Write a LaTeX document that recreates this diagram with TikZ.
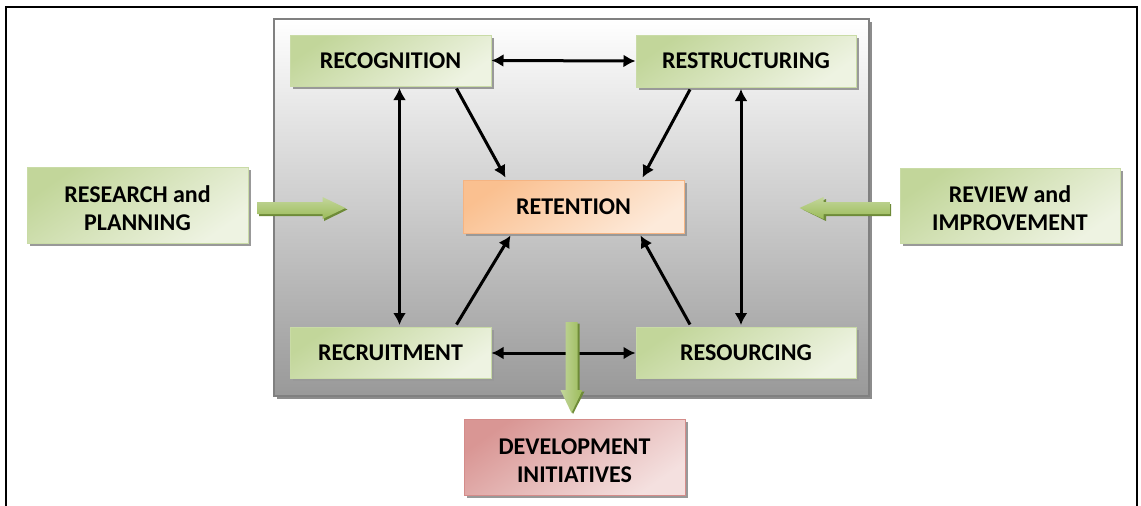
\documentclass[tikz,border=0pt]{standalone}
\usepackage{fontspec}
\setmainfont{Carlito}
\usetikzlibrary{arrows.meta,shadows,calc}
\definecolor{gDark}{HTML}{C2D69A}
\definecolor{gLight}{HTML}{EEF3E2}
\definecolor{gBorder}{HTML}{C9DBA6}
\definecolor{oDark}{HTML}{FAC090}
\definecolor{oLight}{HTML}{FDEADA}
\definecolor{oBorder}{HTML}{F5B482}
\definecolor{rDark}{HTML}{D99694}
\definecolor{rLight}{HTML}{F4E0DF}
\definecolor{rBorder}{HTML}{D48C8A}
\definecolor{arrG}{HTML}{9BBB59}
\definecolor{arrGl}{HTML}{C3D69B}
\definecolor{arrGd}{HTML}{6E8B38}
\tikzset{
  basebox/.style={draw, line width=1pt, inner sep=0pt, align=center,
    font=\fontsize{24}{28}\selectfont\bfseries,
    drop shadow={shadow xshift=3pt,shadow yshift=-3pt,fill=black!40,opacity=1}},
  greenbox/.style={basebox, draw=gBorder, top color=gDark, bottom color=gLight, shading angle=35},
  orangebox/.style={basebox, draw=oBorder, top color=oDark, bottom color=oLight, shading angle=35},
  redbox/.style={basebox, draw=rBorder, top color=rDark, bottom color=rLight, shading angle=35},
  link/.style={line width=3pt, -{Latex[length=12pt,width=13pt]}},
  dlink/.style={line width=3pt, {Latex[length=12pt,width=13pt]}-{Latex[length=12pt,width=13pt]}},
}
\begin{document}
\begin{tikzpicture}[x=1pt,y=-1pt]
\useasboundingbox (0,0) rectangle (1141,506);
% outer frame
\draw[line width=2.2pt] (6,512) -- (6,7) -- (1137,7) -- (1137,512);
% panel
\node[draw=black!50, line width=1.2pt, minimum width=595pt, minimum height=377pt, inner sep=0pt,
      top color=white, bottom color=black!40,
      drop shadow={shadow xshift=3pt,shadow yshift=-3pt,fill=black!45,opacity=1}]
      (panel) at (571.5,207.5) {};
% boxes
\node[greenbox, minimum width=201pt, minimum height=51pt] (recog) at (390.5,60.5) {RECOGNITION};
\node[greenbox, minimum width=220pt, minimum height=52pt] (restr) at (746,61) {RESTRUCTURING};
\node[greenbox, minimum width=201pt, minimum height=51pt] (recruit) at (390.5,352.5) {RECRUITMENT};
\node[greenbox, minimum width=220pt, minimum height=51pt] (resour) at (746,352.5) {RESOURCING};
\node[orangebox, minimum width=221pt, minimum height=53pt] (ret) at (573.5,206.5) {RETENTION};
\node[greenbox, minimum width=221pt, minimum height=76pt] (research) at (137.5,205) {\rule{0pt}{23pt}RESEARCH and\\PLANNING};
\node[greenbox, minimum width=220pt, minimum height=75pt] (review) at (1010,205.5) {\rule{0pt}{23pt}REVIEW and\\IMPROVEMENT};
\node[redbox, minimum width=221pt, minimum height=76pt] (devel) at (574.5,457) {\rule{0pt}{23pt}DEVELOPMENT\\INITIATIVES};
% black connectors
\draw[dlink] (recog.east) -- (restr.west);
\draw[dlink] ([yshift=-0.5pt]recruit.east) -- ([yshift=-0.5pt]resour.west);
\draw[dlink] ([xshift=9pt,yshift=-1.5pt]recog.south) -- ([xshift=9pt,yshift=1.5pt]recruit.north);
\draw[dlink] ([xshift=-5pt,yshift=-1.5pt]restr.south) -- ([xshift=-5pt,yshift=1.5pt]resour.north);
\draw[link] ([xshift=66pt,yshift=-2pt]recog.south) -- ([xshift=-68pt,yshift=2pt]ret.north);
\draw[link] ([xshift=-56pt,yshift=-2pt]restr.south) -- ([xshift=69pt,yshift=2pt]ret.north);
\draw[link] ([xshift=66pt,yshift=2pt]recruit.north) -- ([xshift=-63pt,yshift=-2pt]ret.south);
\draw[link] ([xshift=-56pt,yshift=2pt]resour.north) -- ([xshift=67pt,yshift=-2pt]ret.south);
% green block arrows
\coordinate (a1s) at ($(research.east)+(9,3)$);
\coordinate (a2s) at ($(review.west)+(-10,2.5)$);
\coordinate (a3s) at (571.5,322);
% right arrow
\fill[arrGd] ($(a1s)+(1.5,-4)$) -- ++(65,0) -- ++(0,-5) -- ($(a1s)+(90,1.5)$) -- ($(a1s)+(66.5,13)$) -- ++(0,-5) -- ($(a1s)+(1.5,8)$) -- cycle;
\shade[top color=arrGl, bottom color=arrG] ($(a1s)+(0,-6)$) -- ++(65,0) -- ++(0,-5) -- ($(a1s)+(88,0)$) -- ($(a1s)+(65,11)$) -- ++(0,-5) -- ($(a1s)+(0,6)$) -- cycle;
% left arrow
\fill[arrGd] ($(a2s)+(1.5,-4)$) -- ++(-65,0) -- ++(0,-5) -- ($(a2s)+(-87,1.5)$) -- ($(a2s)+(-63.5,13)$) -- ++(0,-5) -- ($(a2s)+(1.5,8)$) -- cycle;
\shade[top color=arrGl, bottom color=arrG] ($(a2s)+(0,-6)$) -- ++(-66,0) -- ++(0,-5) -- ($(a2s)+(-90,0)$) -- ($(a2s)+(-66,11)$) -- ++(0,-5) -- ($(a2s)+(0,6)$) -- cycle;
% down arrow
\fill[arrGd] ($(a3s)+(-4,1.5)$) -- ++(0,68) -- ++(-5,0) -- ($(a3s)+(1.5,92)$) -- ($(a3s)+(13,69.5)$) -- ++(-5,0) -- ($(a3s)+(8,1.5)$) -- cycle;
\shade[left color=arrGl, right color=arrG] ($(a3s)+(-6,0)$) -- ++(0,68) -- ++(-5,0) -- ($(a3s)+(0,91)$) -- ($(a3s)+(11,68)$) -- ++(-5,0) -- ($(a3s)+(6,0)$) -- cycle;
\end{tikzpicture}
\end{document}
